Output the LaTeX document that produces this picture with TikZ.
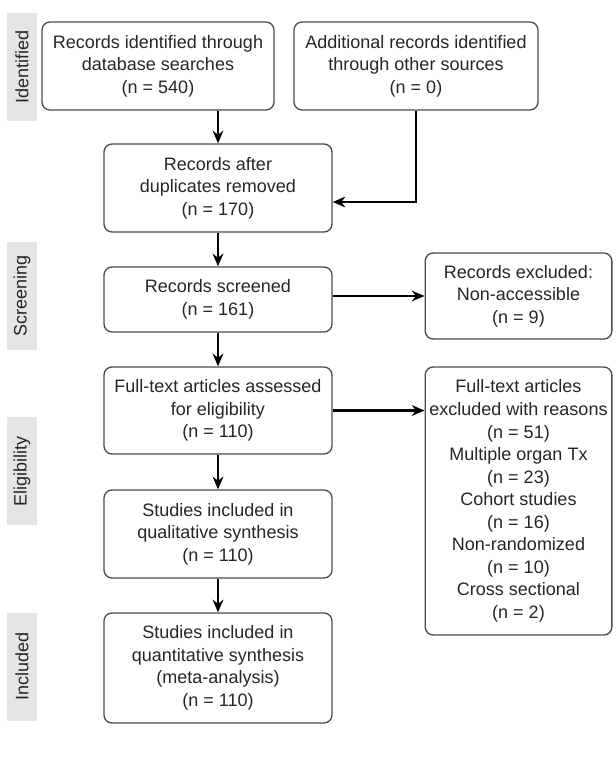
\documentclass[tikz,border=0pt]{standalone}
\usepackage{fontspec}
\setmainfont{Liberation Sans}
\usetikzlibrary{positioning, arrows.meta}
\tikzset{
	x=0.75pt, y=0.75pt,
	>={Stealth[length=9.5pt, width=8pt]},
	box/.style={draw=black!70, line width=1pt, rounded corners=6pt, fill=white,
		align=center, text=black!85, inner sep=2pt, minimum width=171pt,
		font=\fontsize{13.5pt}{16.9pt}\selectfont},
	phase/.style={fill=black!10, rotate=90, minimum width=81pt, minimum height=22.5pt,
		inner sep=0pt, text=black!85, font=\fontsize{13.5pt}{16.9pt}\selectfont},
	flow/.style={->, line width=1.6pt},
}

\begin{document}
\begin{tikzpicture}
	\useasboundingbox[fill=white] (0,0) rectangle (616,-767);
	% phase labels
	\node[phase] (ident) at (22,-67) {Identified};
	\node[phase] (screening) at (22,-295.5) {Screening};
	\node[phase] (elig) at (22,-471) {Eligibility};
	\node[phase] (incl) at (22,-666.5) {Included};
	% boxes
	\node[box, minimum width=174pt, minimum height=66pt] (dbase) at (158,-66)
		{Records identified through\\database searches\\(n = 540)};
	\node[box, minimum width=183pt, minimum height=66pt] (other) at (416,-66)
		{Additional records identified\\through other sources\\(n = 0)};
	\node[box, minimum height=66pt] (dupl) at (218,-188)
		{Records after\\duplicates removed\\(n = 170)};
	\node[box, minimum height=48.75pt] (screen) at (218,-299.5)
		{Records screened\\(n = 161)};
	\node[box, minimum width=140pt, minimum height=64.5pt] (nonacc) at (518.5,-296)
		{Records excluded:\\Non-accessible\\(n = 9)};
	\node[box, minimum height=65.25pt] (fulltext) at (218,-410.5)
		{Full-text articles assessed\\for eligibility\\(n = 110)};
	\node[box, minimum width=140pt, minimum height=201pt] (reasons) at (518.5,-501)
		{Full-text articles\\excluded with reasons\\(n = 51)\\Multiple organ Tx\\(n = 23)\\Cohort studies\\(n = 16)\\Non-randomized\\(n = 10)\\Cross sectional\\(n = 2)};
	\node[box, minimum height=66pt] (qual) at (218,-534)
		{Studies included in\\qualitative synthesis\\(n = 110)};
	\node[box, minimum height=82.5pt] (quant) at (218,-668)
		{Studies included in\\quantitative synthesis\\(meta-analysis)\\(n = 110)};
	% connectors
	\coordinate (duplin) at ([yshift=-10.5pt]dupl.east);
	\draw[flow] (dbase.south -| dupl.north) -- (dupl.north);
	\draw[flow] (other.south) |- (duplin);
	\draw[flow] (dupl) -- (screen);
	\draw[flow] (screen.east |- nonacc) -- (nonacc.west);
	\draw[flow] (screen) -- (fulltext);
	\draw[flow] (fulltext) -- (reasons.west |- fulltext);
	\draw[flow] (fulltext) -- (qual);
	\draw[flow] (qual) -- (quant);
\end{tikzpicture}
\end{document}
